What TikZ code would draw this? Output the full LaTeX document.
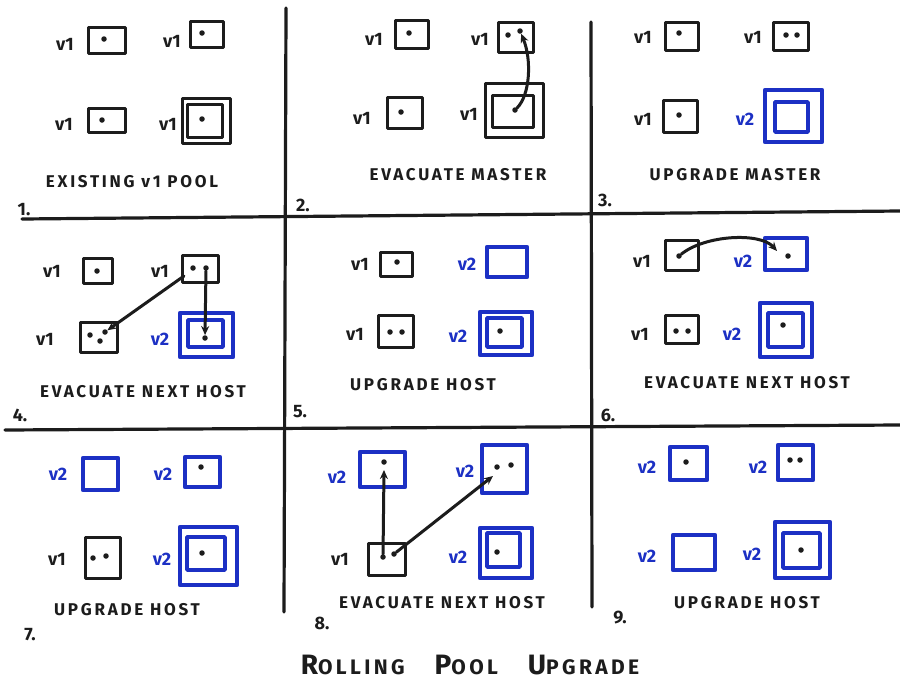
\documentclass[tikz,border=0pt]{standalone}
\usepackage{fontspec}
\setmainfont{Fira Sans}
\newfontfamily\hand[LetterSpace=16]{Fira Sans}
\usetikzlibrary{arrows.meta}
\definecolor{ink}{RGB}{28,28,28}
\definecolor{blu}{RGB}{28,48,196}
\tikzset{
  kb/.style={draw=ink, line width=3pt, inner sep=0pt, outer sep=0pt, line join=round},
  bb/.style={draw=blu, line width=4.4pt, inner sep=0pt, outer sep=0pt, line join=round},
  ib/.style={draw=blu, line width=3.6pt, inner sep=0pt, outer sep=0pt, line join=round},
  dt/.style={circle, fill=ink, inner sep=0pt, minimum size=5.5pt},
  vk/.style={text=ink, font=\bfseries\fontsize{18}{18}\selectfont, inner sep=0pt},
  vb/.style={text=blu, font=\bfseries\fontsize{18}{18}\selectfont, inner sep=0pt},
  capt/.style={text=ink, font=\hand\bfseries\fontsize{17}{17}\selectfont, inner sep=0pt},
  num/.style={text=ink, font=\bfseries\fontsize{18}{18}\selectfont, inner sep=0pt},
  gridline/.style={draw=ink, line width=3.2pt, line cap=round},
  mv/.style={draw=ink, line width=3pt, line cap=round, -{Stealth[length=9pt,width=8pt]}},
}
\newcommand{\bx}[6]{\node[#1, minimum width=#4pt, minimum height=#5pt] (#6) at (#2,#3) {};}
\begin{document}
\begin{tikzpicture}[x=1pt,y=-1pt]
\useasboundingbox[fill=white] (0,0) rectangle (900,686);
% grid
\coordinate (h1a) at (22,219); \coordinate (h1b) at (900,211);
\coordinate (h2a) at (5,430); \coordinate (h2b) at (900,425);
\coordinate (v1a) at (286,8); \coordinate (v1b) at (284,612);
\coordinate (v2a) at (591,22); \coordinate (v2b) at (592,607);
\draw[gridline] (h1a) -- (h1b);
\draw[gridline] (h2a) -- (h2b);
\draw[gridline] (v1a) -- (v1b);
\draw[gridline] (v2a) -- (v2b);

% ---------- panel 1
\node[vk] (l1a) at (65,44) {v1};
\bx{kb}{106.5}{40}{37}{26}{A1} \node[dt] (A1d) at (104,39) {};
\node[vk] (l1b) at (172,41) {v1};
\bx{kb}{206.5}{34}{33}{26}{A2} \node[dt] (A2d) at (202,33) {};
\node[vk] (l1c) at (64,124) {v1};
\bx{kb}{106.5}{120}{37}{24}{A3} \node[dt] (A3d) at (102,120) {};
\node[vk] (l1d) at (168,124) {v1};
\bx{kb}{206}{120.5}{48}{45}{A4} \bx{kb}{204.5}{120.5}{35}{33}{A4i}
\node[dt] (A4d) at (202,119) {};
\node[capt] (c1) at (132,182) {EXISTING v1 POOL};
\node[num] (n1) at (24,210) {1.};

% ---------- panel 2
\node[vk] (l2a) at (374,39) {v1};
\bx{kb}{411.5}{34}{33}{28}{B1} \node[dt] (B1d) at (409,33) {};
\node[vk] (l2b) at (480,39) {v1};
\bx{kb}{515.5}{37}{35}{30}{B2} \node[dt] (B2d) at (508,35) {}; \node[dt] (B2e) at (520,31) {};
\node[vk] (l2c) at (362,118) {v1};
\bx{kb}{404.5}{112.5}{35}{31}{B3} \node[dt] (B3d) at (401,112) {};
\node[vk] (l2d) at (469,114) {v1};
\bx{kb}{514}{110}{58}{54}{B4} \bx{kb}{512.5}{111}{41}{32}{B4i}
\node[dt] (B4d) at (515,110) {};
\draw[mv] (B4d) .. controls (530,95) and (532,60) .. (B2e);
\node[capt] (c2) at (458,175) {EVACUATE MASTER};
\node[num] (n2) at (303,205) {2.};

% ---------- panel 3
\node[vk] (l3a) at (643,37) {v1};
\bx{kb}{681.5}{36}{33}{28}{C1} \node[dt] (C1d) at (679,33) {};
\node[vk] (l3b) at (753,37) {v1};
\bx{kb}{790.5}{36}{35}{28}{C2} \node[dt] (C2d) at (786,35) {}; \node[dt] (C2e) at (797,35) {};
\node[vk] (l3c) at (643,119) {v1};
\bx{kb}{680}{116}{34}{32}{C3} \node[dt] (C3d) at (679,115) {};
\node[vb] (l3d) at (745,119) {v2};
\bx{bb}{793.5}{116}{57}{52}{C4} \bx{ib}{791.5}{117}{33}{30}{C4i}
\node[capt] (c3) at (735,175) {UPGRADE MASTER};
\node[num] (n3) at (605,200) {3.};

% ---------- panel 4
\node[vk] (l4a) at (52,271) {v1};
\bx{kb}{97.5}{270.5}{29}{25}{D1} \node[dt] (D1d) at (97,271) {};
\node[vk] (l4b) at (160,271) {v1};
\bx{kb}{200}{268.5}{36}{27}{D2} \node[dt] (D2d) at (193,268) {}; \node[dt] (D2e) at (206,268) {};
\node[vk] (l4c) at (45,339) {v1};
\bx{kb}{98.5}{337}{37}{30}{D3}
\node[dt] (D3d) at (90,335) {}; \node[dt] (D3e) at (105,332) {}; \node[dt] (D3f) at (100,341) {};
\node[vb] (l4d) at (160,339) {v2};
\bx{bb}{206.5}{335}{53}{44}{D4} \bx{ib}{205.5}{333.5}{35}{27}{D4i}
\node[dt] (D4d) at (205,338) {};
\coordinate (D2s) at (184,276);
\draw[mv] (D2s) -- (D3e);
\draw[mv] (D2e) -- (D4d);
\node[capt] (c4) at (143,392) {EVACUATE NEXT HOST};
\node[num] (n4) at (20,415) {4.};

% ---------- panel 5
\node[vk] (l5a) at (360,264) {v1};
\bx{kb}{396}{264}{32}{24}{E1} \node[dt] (E1d) at (397,262) {};
\node[vb] (l5b) at (467,264) {v2};
\bx{bb}{507}{262}{40}{30}{E2}
\node[vk] (l5c) at (355,334) {v1};
\bx{kb}{395.5}{331}{35}{32}{E3} \node[dt] (E3d) at (390,332) {}; \node[dt] (E3e) at (402,332) {};
\node[vb] (l5d) at (458,336) {v2};
\bx{bb}{506}{333.5}{52}{43}{E4} \bx{ib}{504.5}{332.5}{35}{29}{E4i}
\node[dt] (E4d) at (500,331) {};
\node[capt] (c5) at (423,385) {UPGRADE HOST};
\node[num] (n5) at (300,412) {5.};

% ---------- panel 6
\node[vk] (l6a) at (642,261) {v1};
\bx{kb}{681.5}{255}{33}{30}{F1} \node[dt] (F1d) at (679,256) {};
\node[vb] (l6b) at (743,261) {v2};
\bx{bb}{786}{254}{42}{32}{F2} \node[dt] (F2d) at (788,256) {};
\coordinate (F2t) at (777,251);
\draw[mv] (F1d) .. controls (705,235) and (760,232) .. (F2t);
\node[vk] (l6c) at (640,334) {v1};
\bx{kb}{681.5}{329}{33}{28}{F3} \node[dt] (F3d) at (676,331) {}; \node[dt] (F3e) at (688,331) {};
\node[vb] (l6d) at (732,334) {v2};
\bx{bb}{786}{330}{52}{54}{F4} \bx{ib}{785.5}{330}{35}{34}{F4i}
\node[dt] (F4d) at (783,325) {};
\node[capt] (c6) at (747,383) {EVACUATE NEXT HOST};
\node[num] (n6) at (608,415) {6.};

% ---------- panel 7
\node[vb] (l7a) at (58,474) {v2};
\bx{bb}{100.5}{474}{35}{32}{G1}
\node[vb] (l7b) at (163,474) {v2};
\bx{bb}{202.5}{472}{35}{30}{G2} \node[dt] (G2d) at (201,467) {};
\node[vk] (l7c) at (57,559) {v1};
\bx{kb}{102.5}{557.5}{35}{41}{G3} \node[dt] (G3d) at (93,558) {}; \node[dt] (G3e) at (106,556) {};
\node[vb] (l7d) at (162,559) {v2};
\bx{bb}{208.5}{556}{57}{58}{G4} \bx{ib}{206}{553.5}{38}{33}{G4i}
\node[dt] (G4d) at (202,553) {};
\node[capt] (c7) at (127,610) {UPGRADE HOST};
\node[num] (n7) at (30,635) {7.};

% ---------- panel 8
\node[vb] (l8a) at (337,477) {v2};
\bx{bb}{382.5}{469.5}{45}{35}{H1} \node[dt] (H1d) at (384,462) {};
\node[vb] (l8b) at (465,471) {v2};
\bx{bb}{504.5}{469}{45}{48}{H2} \node[dt] (H2d) at (497,467) {}; \node[dt] (H2e) at (511,465) {};
\node[vk] (l8c) at (340,559) {v1};
\bx{kb}{386.5}{559}{37}{32}{H3} \node[dt] (H3d) at (383,557) {}; \node[dt] (H3e) at (394,554) {};
\node[vb] (l8d) at (458,557) {v2};
\bx{bb}{506}{553}{52}{50}{H4} \bx{ib}{503.5}{550}{33}{34}{H4i}
\node[dt] (H4d) at (497,552) {};
\coordinate (H1t) at (384,470);
\coordinate (H2t) at (493,476);
\draw[mv] (H3d) -- (H1t);
\draw[mv] (H3e) -- (H2t);
\node[capt] (c8) at (442,603) {EVACUATE NEXT HOST};
\node[num] (n8) at (322,623) {8.};

% ---------- panel 9
\node[vb] (l9a) at (647,467) {v2};
\bx{bb}{688.5}{463.5}{37}{33}{I1} \node[dt] (I1d) at (686,462) {};
\node[vb] (l9b) at (758,467) {v2};
\bx{bb}{795.5}{462.5}{35}{35}{I2} \node[dt] (I2d) at (790,460) {}; \node[dt] (I2e) at (800,460) {};
\node[vb] (l9c) at (647,556) {v2};
\bx{bb}{694}{552.5}{42}{35}{I3}
\node[vb] (l9d) at (752,554) {v2};
\bx{bb}{802.5}{550}{55}{56}{I4} \bx{ib}{801.5}{550.5}{37}{35}{I4i}
\node[dt] (I4d) at (801,550) {};
\node[capt] (c9) at (747,603) {UPGRADE HOST};
\node[num] (n9) at (620,618) {9.};

% ---------- title
\node[text=ink, font=\hand\bfseries\fontsize{21}{21}\selectfont, inner sep=0pt] (title) at (470,665)
  {{\fontsize{28}{28}\selectfont R}OLLING\hspace{30pt}{\fontsize{28}{28}\selectfont P}OOL\hspace{30pt}{\fontsize{28}{28}\selectfont U}PGRADE};
\end{tikzpicture}
\end{document}
